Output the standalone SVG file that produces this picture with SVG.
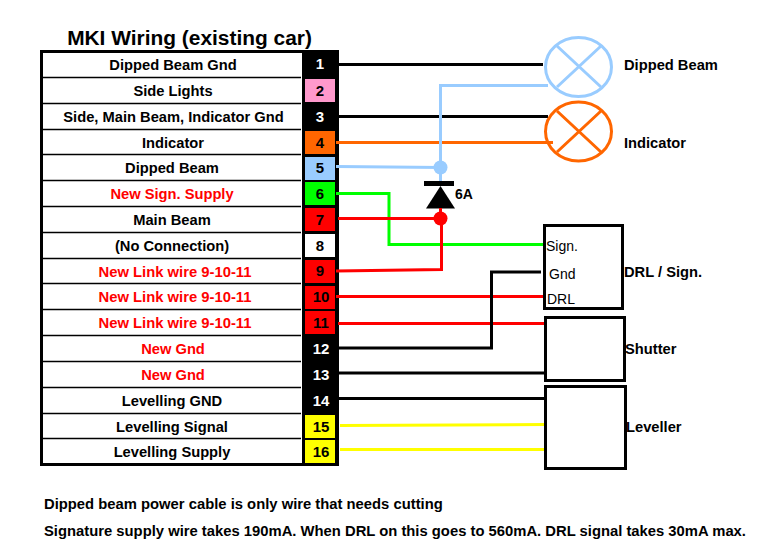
<svg xmlns="http://www.w3.org/2000/svg" width="776" height="560" viewBox="0 0 776 560">
<style>
text{font-family:"Liberation Sans",Arial,sans-serif;font-weight:bold;font-size:14.7px;fill:#000}
.c{text-anchor:middle}
.r{fill:#f00}
.w{fill:#fff}
.n{font-size:15px;text-anchor:middle}
.p{font-weight:normal;font-size:14px}
.f{font-size:14.8px}
.sep{stroke:#000;stroke-width:1.5;fill:none}
.wire{fill:none;stroke-width:3}
.k{stroke:#000}.o{stroke:#f60}.b{stroke:#9cf}.g{stroke:#0f0}.e{stroke:#f00}.y{stroke:#ff0}
.box{fill:#fff;stroke:#000;stroke-width:3}
.lamp{fill:none;stroke-width:3}
</style>
<rect width="776" height="560" fill="#fff"/>
<text x="189.500" y="45" class="c" style="font-size:20.900px">MKI Wiring (existing car)</text>
<g id="table">
<rect x="41.500" y="51.500" width="296" height="413" fill="#fff" stroke="#000" stroke-width="3"/>
<rect x="302" y="50" width="36" height="416" fill="#000"/>
<path class="sep" d="M43 77.500H301M43 103.500H301M43 129.500H301M43 154.500H301M43 180.500H301M43 206.500H301M43 232.500H301M43 258.500H301M43 283.500H301M43 309.500H301M43 335.500H301M43 361.500H301M43 387.500H301M43 413.500H301M43 438.500H301"/>
<rect x="305" y="79" width="30" height="23" fill="#f9c"/>
<rect x="305" y="131" width="30" height="23" fill="#f60"/>
<rect x="305" y="157" width="30" height="23" fill="#9cf"/>
<rect x="305" y="182" width="30" height="23" fill="#0f0"/>
<rect x="305" y="208" width="30" height="23" fill="#f00"/>
<rect x="305" y="234" width="30" height="23" fill="#fff"/>
<rect x="305" y="260" width="30" height="23" fill="#f00"/>
<rect x="305" y="286" width="30" height="23" fill="#f00"/>
<rect x="305" y="311" width="30" height="23" fill="#f00"/>
<rect x="305" y="415" width="30" height="23" fill="#ff0"/>
<rect x="305" y="440" width="30" height="23" fill="#ff0"/>
<text x="173" y="69.500" class="c">Dipped Beam Gnd</text>
<text x="173" y="95.500" class="c">Side Lights</text>
<text x="173.500" y="121.500" class="c">Side, Main Beam, Indicator Gnd</text>
<text x="173" y="147.500" class="c">Indicator</text>
<text x="172" y="173" class="c">Dipped Beam</text>
<text x="172" y="199" class="c r">New Sign. Supply</text>
<text x="172" y="224.500" class="c">Main Beam</text>
<text x="172" y="250.500" class="c">(No Connection)</text>
<text x="175" y="276.500" class="c r f">New Link wire 9-10-11</text>
<text x="175" y="302" class="c r f">New Link wire 9-10-11</text>
<text x="175" y="327.500" class="c r f">New Link wire 9-10-11</text>
<text x="173" y="353.500" class="c r">New Gnd</text>
<text x="173" y="379.500" class="c r">New Gnd</text>
<text x="172" y="405.500" class="c">Levelling GND</text>
<text x="172" y="431.500" class="c">Levelling Signal</text>
<text x="172" y="456.500" class="c">Levelling Supply</text>
<text x="320" y="69" class="n w">1</text>
<text x="320" y="96" class="n">2</text>
<text x="320" y="122" class="n w">3</text>
<text x="320" y="148" class="n">4</text>
<text x="320" y="173" class="n">5</text>
<text x="320" y="199" class="n">6</text>
<text x="320" y="225" class="n">7</text>
<text x="320" y="251" class="n">8</text>
<text x="320" y="276" class="n">9</text>
<text x="321" y="302" class="n">10</text>
<text x="321" y="328" class="n">11</text>
<text x="321" y="354" class="n w">12</text>
<text x="321" y="380" class="n w">13</text>
<text x="321" y="406" class="n w">14</text>
<text x="321" y="432" class="n">15</text>
<text x="321" y="457" class="n">16</text>
</g>
<g id="connectors">
<path class="wire k" d="M338 64.500H543"/>
<path class="wire k" d="M338 116.500H548"/>
<path class="wire o" d="M336 142.500H553"/>
<path class="wire b" d="M336 166.500L440.500 167.500V85.500H548"/>
<path class="wire g" d="M336 193.500H389V244.500H543"/>
<path class="wire e" d="M338 218.500H440.500"/>
<path class="wire e" d="M336 271L441.500 269.500V218"/>
<path class="wire e" d="M336 296.500H543"/>
<path class="wire e" d="M338 323.500H545"/>
<path class="wire k" d="M338 348H491.500V272H541"/>
<path class="wire k" d="M338 373H545"/>
<path class="wire k" d="M338 398.500H545"/>
<path class="wire y" d="M340 425.500L545 424.500"/>
<path class="wire y" d="M340 449.500H545"/>
</g>
<g id="diode">
<circle cx="440.500" cy="167.500" r="7" fill="#9cf"/>
<path d="M440.500 174V181" stroke="#9cf" stroke-width="3"/>
<rect x="424" y="181" width="30" height="5" fill="#000"/>
<path d="M440.500 186L426 208.500H455Z" fill="#000"/>
<circle cx="440.500" cy="218.500" r="7" fill="#f00"/>
<path d="M440.500 208V214" stroke="#f00" stroke-width="3"/>
<text x="455" y="199" style="font-size:14px">6A</text>
</g>
<g id="lamp-dipped">
<ellipse class="lamp b" cx="578.500" cy="67" rx="33" ry="29.500"/>
<path class="lamp b" d="M557 46L601 87M601 46L557 87"/>
<text x="624" y="69.500">Dipped Beam</text>
</g>
<g id="lamp-indicator">
<ellipse class="lamp o" cx="578.500" cy="131.500" rx="33" ry="29.500"/>
<path class="lamp o" d="M557 111L601 152M601 111L557 152"/>
<text x="624" y="147.500">Indicator</text>
</g>
<g id="box-drl">
<rect class="box" x="544.500" y="225.500" width="78" height="83"/>
<text x="546" y="251" class="p">Sign.</text>
<text x="549" y="279" class="p">Gnd</text>
<text x="547" y="304" class="p">DRL</text>
<text x="624" y="277">DRL / Sign.</text>
</g>
<g id="box-shutter">
<rect class="box" x="545.500" y="317.500" width="79" height="63"/>
<text x="625" y="354">Shutter</text>
</g>
<g id="box-leveller">
<rect class="box" x="545.500" y="386.500" width="80" height="82"/>
<text x="626" y="432">Leveller</text>
</g>
<text x="44" y="509" class="f">Dipped beam power cable is only wire that needs cutting</text>
<text x="44" y="536" class="f">Signature supply wire takes 190mA. When DRL on this goes to 560mA. DRL signal takes 30mA max.</text>
</svg>
